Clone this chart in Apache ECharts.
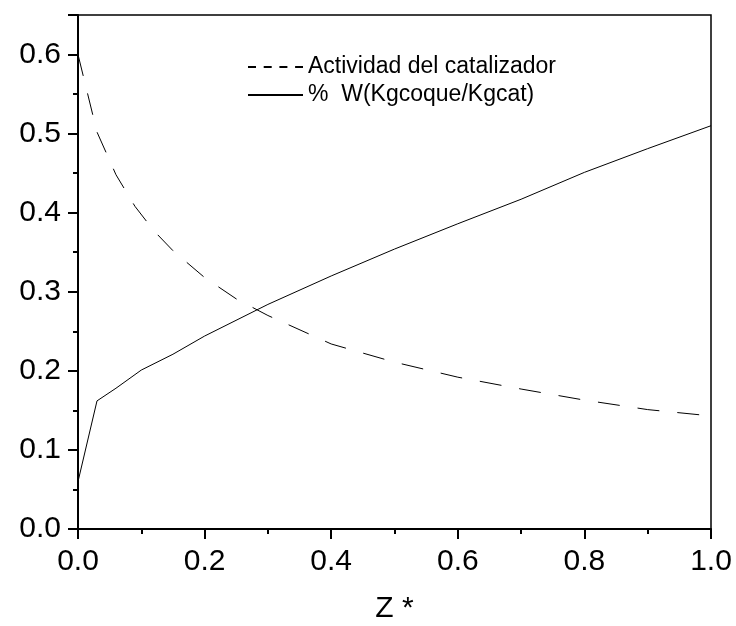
<!DOCTYPE html>
<html>
<head>
<meta charset="utf-8">
<script src="https://cdn.jsdelivr.net/npm/echarts@6/dist/echarts.min.js"></script>
<style>
  html, body { margin: 0; padding: 0; background: #fff; }
  #main { width: 736px; height: 626px; }
</style>
</head>
<body>
<div id="main"></div>
<script>
var zActividad = [0, 0.03, 0.06, 0.09, 0.12, 0.15, 0.2, 0.25, 0.3, 0.4, 0.5, 0.6, 0.7, 0.8, 0.9, 1.0];
var actividad  = [0.600, 0.502, 0.448, 0.408, 0.377, 0.352, 0.318, 0.291, 0.270, 0.234, 0.211, 0.192, 0.177, 0.163, 0.151, 0.143];

var zCoque = [0, 0.03, 0.06, 0.1, 0.15, 0.2, 0.3, 0.4, 0.5, 0.6, 0.7, 0.8, 0.9, 1.0];
var coque  = [0.060, 0.162, 0.178, 0.201, 0.221, 0.244, 0.284, 0.320, 0.354, 0.386, 0.417, 0.451, 0.481, 0.510];

var serieNames = ['Actividad del catalizador', '%  W(Kgcoque/Kgcat)'];

function pares(xs, ys) {
    var out = [];
    for (var i = 0; i < xs.length; i++) {
        out.push([xs[i], ys[i]]);
    }
    return out;
}

var chart = echarts.init(document.getElementById('main'));
var fuente = 'Liberation Sans, Arial, sans-serif';

var option = {
    animation: false,
    backgroundColor: '#fff',
    grid: {
        left: 78,
        right: 25,
        top: 15,
        bottom: 97,
        outerBoundsMode: 'none',
        show: true,
        borderColor: '#000',
        borderWidth: 1.5
    },
    legend: {
        orient: 'vertical',
        left: 242,
        top: 48,
        itemWidth: 55,
        itemHeight: 14,
        itemGap: 0,
        textStyle: { fontFamily: fuente, fontSize: 23, color: '#000', lineHeight: 28 },
        data: [
            { name: serieNames[0], itemStyle: { opacity: 0 }, lineStyle: { type: [8, 7.7], width: 1.8 } },
            { name: serieNames[1], itemStyle: { opacity: 0 } }
        ]
    },
    xAxis: {
        type: 'value',
        min: 0,
        max: 1,
        interval: 0.2,
        name: 'Z *',
        nameLocation: 'middle',
        nameGap: 65,
        nameTextStyle: { fontFamily: fuente, fontSize: 30, color: '#000' },
        axisLine: { show: true, lineStyle: { color: '#000', width: 2 } },
        axisTick: { show: true, inside: false, length: 10, lineStyle: { color: '#000', width: 2 } },
        minorTick: { show: true, splitNumber: 2, length: 5, lineStyle: { color: '#000', width: 2 } },
        splitLine: { show: false },
        axisLabel: {
            margin: 18,
            fontFamily: fuente,
            fontSize: 30,
            color: '#000',
            formatter: function (v) { return v.toFixed(1); }
        }
    },
    yAxis: {
        type: 'value',
        min: 0,
        max: 0.65,
        interval: 0.1,
        axisLine: { show: true, lineStyle: { color: '#000', width: 2 } },
        axisTick: { show: true, inside: false, length: 10, lineStyle: { color: '#000', width: 2 } },
        minorTick: { show: true, splitNumber: 2, length: 5, lineStyle: { color: '#000', width: 2 } },
        splitLine: { show: false },
        axisLabel: {
            margin: 17,
            fontFamily: fuente,
            fontSize: 30,
            color: '#000',
            showMaxLabel: false,
            formatter: function (v) { return v.toFixed(1); }
        }
    },
    series: [
        {
            name: serieNames[0],
            type: 'line',
            symbol: 'none',
            data: pares(zActividad, actividad),
            lineStyle: { color: '#000', width: 1, type: [22, 18] },
            itemStyle: { color: '#000' }
        },
        {
            name: serieNames[1],
            type: 'line',
            symbol: 'none',
            data: pares(zCoque, coque),
            lineStyle: { color: '#000', width: 1 },
            itemStyle: { color: '#000' }
        }
    ]
};

chart.setOption(option);
</script>
</body>
</html>
